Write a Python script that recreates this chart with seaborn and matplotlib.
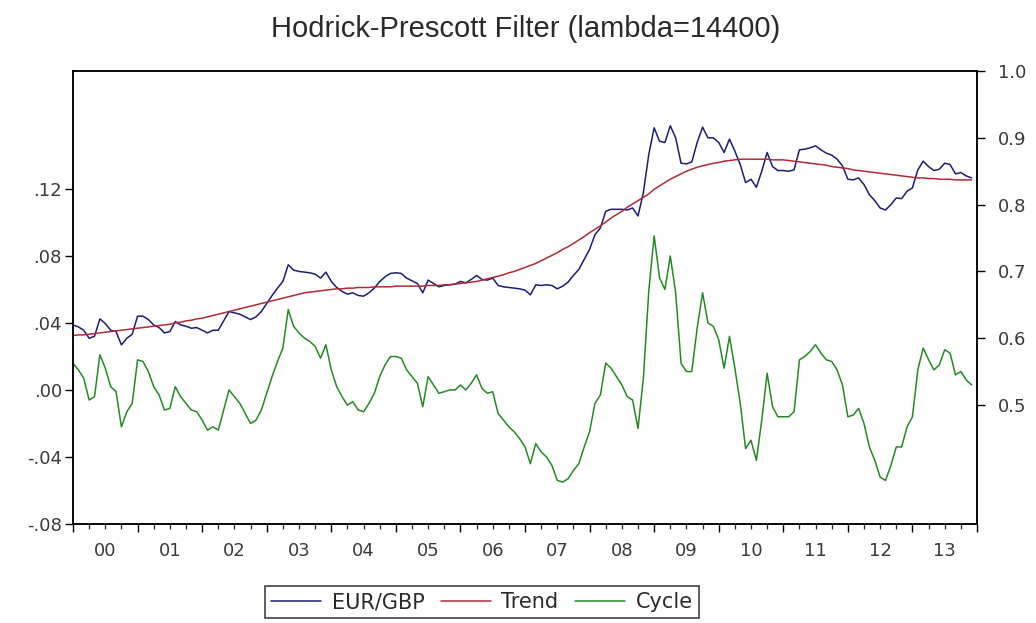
import numpy as np
import pandas as pd
import matplotlib
matplotlib.use("Agg")
import matplotlib.pyplot as plt
import seaborn as sns
from matplotlib.ticker import FixedLocator, FuncFormatter, MultipleLocator
from matplotlib.lines import Line2D

# Monthly EUR/GBP exchange rate, Jan 2000 - Dec 2013
eurgbp = [
    0.620, 0.617, 0.612, 0.600, 0.603, 0.629, 0.622, 0.612, 0.610, 0.590, 0.600, 0.606,  # 2000
    0.633, 0.633, 0.628, 0.620, 0.616, 0.608, 0.610, 0.625, 0.620, 0.618, 0.615, 0.616,  # 2001
    0.612, 0.608, 0.612, 0.612, 0.626, 0.640, 0.638, 0.636, 0.632, 0.628, 0.632, 0.640,  # 2002
    0.652, 0.664, 0.675, 0.685, 0.710, 0.702, 0.700, 0.699, 0.698, 0.696, 0.690, 0.699,  # 2003
    0.685, 0.676, 0.670, 0.666, 0.668, 0.664, 0.663, 0.668, 0.675, 0.685, 0.692, 0.697,  # 2004
    0.698, 0.697, 0.690, 0.686, 0.682, 0.668, 0.687, 0.682, 0.677, 0.679, 0.680, 0.681,  # 2005
    0.685, 0.683, 0.688, 0.694, 0.688, 0.687, 0.690, 0.679, 0.677, 0.676, 0.675, 0.674,  # 2006
    0.672, 0.665, 0.680, 0.679, 0.680, 0.679, 0.674, 0.678, 0.684, 0.694, 0.703, 0.718,  # 2007
    0.733, 0.755, 0.765, 0.790, 0.793, 0.793, 0.793, 0.792, 0.795, 0.783, 0.818, 0.875,  # 2008
    0.915, 0.895, 0.893, 0.918, 0.900, 0.862, 0.861, 0.864, 0.893, 0.916, 0.900, 0.900,  # 2009
    0.893, 0.878, 0.898, 0.880, 0.860, 0.833, 0.838, 0.826, 0.850, 0.878, 0.857, 0.851,  # 2010
    0.851, 0.850, 0.852, 0.882, 0.883, 0.885, 0.888, 0.882, 0.877, 0.874, 0.868, 0.858,  # 2011
    0.838, 0.837, 0.840, 0.830, 0.815, 0.806, 0.795, 0.792, 0.800, 0.810, 0.809, 0.820,  # 2012
    0.825, 0.852, 0.865, 0.857, 0.851, 0.853, 0.862, 0.860, 0.846, 0.848, 0.843, 0.840,  # 2013
]

# Hodrick-Prescott trend component (lambda = 14400)
trend = [
    0.604, 0.605, 0.605, 0.606, 0.607, 0.608, 0.609, 0.610, 0.611, 0.612, 0.613, 0.614,  # 2000
    0.615, 0.616, 0.617, 0.618, 0.619, 0.620, 0.621, 0.623, 0.624, 0.626, 0.627, 0.629,  # 2001
    0.630, 0.632, 0.634, 0.636, 0.638, 0.640, 0.642, 0.644, 0.646, 0.648, 0.650, 0.652,  # 2002
    0.654, 0.656, 0.658, 0.660, 0.662, 0.664, 0.666, 0.668, 0.669, 0.670, 0.671, 0.672,  # 2003
    0.673, 0.674, 0.674, 0.675, 0.675, 0.676, 0.676, 0.676, 0.677, 0.677, 0.677, 0.677,  # 2004
    0.678, 0.678, 0.678, 0.678, 0.678, 0.678, 0.679, 0.679, 0.679, 0.680, 0.680, 0.681,  # 2005
    0.682, 0.683, 0.684, 0.685, 0.687, 0.689, 0.691, 0.693, 0.695, 0.698, 0.700, 0.703,  # 2006
    0.706, 0.709, 0.712, 0.716, 0.720, 0.724, 0.728, 0.733, 0.737, 0.742, 0.747, 0.752,  # 2007
    0.758, 0.763, 0.768, 0.774, 0.780, 0.785, 0.790, 0.796, 0.801, 0.806, 0.811, 0.816,  # 2008
    0.823, 0.828, 0.833, 0.838, 0.842, 0.846, 0.850, 0.853, 0.856, 0.858, 0.860, 0.862,  # 2009
    0.863, 0.865, 0.866, 0.867, 0.868, 0.868, 0.868, 0.868, 0.868, 0.868, 0.867, 0.867,  # 2010
    0.867, 0.866, 0.865, 0.864, 0.863, 0.862, 0.861, 0.860, 0.859, 0.857, 0.856, 0.855,  # 2011
    0.854, 0.852, 0.851, 0.850, 0.849, 0.848, 0.847, 0.846, 0.845, 0.844, 0.843, 0.842,  # 2012
    0.841, 0.840, 0.840, 0.839, 0.839, 0.838, 0.838, 0.838, 0.837, 0.837, 0.837, 0.837,  # 2013
]

years = list(range(2000, 2014))
year_labels = ["00", "01", "02", "03", "04", "05", "06",
               "07", "08", "09", "10", "11", "12", "13"]
left_ticks = [-0.08, -0.04, 0.00, 0.04, 0.08, 0.12]
right_ticks = [0.5, 0.6, 0.7, 0.8, 0.9, 1.0]

series_names = ["EUR/GBP", "Trend", "Cycle"]
colors = {"EUR/GBP": "#1c1c74", "Trend": "#b02a36", "Cycle": "#238a23"}

# Decimal time, level, trend and the cyclical component (level minus trend)
n = len(eurgbp)
df = pd.DataFrame({
    "t": years[0] + np.arange(n) / 12.0,
    "EUR/GBP": eurgbp,
    "Trend": trend,
})
df["Cycle"] = df["EUR/GBP"] - df["Trend"]

sns.set_style("ticks")
plt.rcParams["font.family"] = ["DejaVu Sans"]

W, H = 1036, 623
fig = plt.figure(figsize=(W / 100, H / 100), dpi=100)
ax = fig.add_axes([73 / W, 1 - 524 / H, (977 - 73) / W, (524 - 71) / H])
ax2 = ax.twinx()

lw = 1.1
sns.lineplot(data=df, x="t", y="Cycle", ax=ax, color=colors["Cycle"], lw=lw)
sns.lineplot(data=df, x="t", y="EUR/GBP", ax=ax2, color=colors["EUR/GBP"], lw=lw)
sns.lineplot(data=df, x="t", y="Trend", ax=ax2, color=colors["Trend"], lw=lw)

ax.set_xlim(2000, 2014)
ax.set_ylim(-0.08, 0.1904)
ax2.set_ylim(0.322, 1.0)

for a in (ax, ax2):
    a.set_xlabel("")
    a.set_ylabel("")
    for s in a.spines.values():
        s.set_visible(True)
        s.set_color("black")
        s.set_linewidth(1.1)

tick_font = 13
label_color = "#3a3a3a"

# Left axis: cyclical component
ax.yaxis.set_major_locator(FixedLocator(left_ticks))
ax.yaxis.set_major_formatter(FuncFormatter(
    lambda v, p: ("-" if v < -1e-9 else "") + f"{abs(v):.2f}"[1:]))
ax.tick_params(axis="y", direction="out", length=6, width=1.0,
               labelsize=tick_font, pad=2, colors="black", labelcolor=label_color)

# Right axis: exchange rate and trend
ax2.yaxis.set_major_locator(FixedLocator(right_ticks))
ax2.yaxis.set_major_formatter(FuncFormatter(lambda v, p: f"{v:.1f}"))
ax2.tick_params(axis="y", direction="out", length=6, width=1.0,
                labelsize=tick_font, pad=9, colors="black", labelcolor=label_color)

# Time axis: year boundaries with quarterly minor ticks, labels mid-year
ax.xaxis.set_major_locator(FixedLocator(years + [2014]))
ax.xaxis.set_minor_locator(MultipleLocator(0.25))
ax.xaxis.set_major_formatter(FuncFormatter(lambda v, p: ""))
ax.tick_params(axis="x", which="major", direction="out", length=6, width=1.0)
ax.tick_params(axis="x", which="minor", direction="out", length=3.5, width=0.9)
ax.tick_params(axis="x", colors="black")
for yr, lab in zip(years, year_labels):
    ax.text(yr + 0.5, -0.040, lab, transform=ax.get_xaxis_transform(),
            ha="center", va="top", fontsize=tick_font, color=label_color)

fig.suptitle("Hodrick-Prescott Filter (lambda=14400)", x=526 / W,
             y=1 - 29 / H, va="center", fontsize=21,
             family=["Liberation Sans", "DejaVu Sans"], color="#2a2a2a")

handles = [Line2D([0], [0], color=colors[s], lw=lw) for s in series_names]
leg = fig.legend(handles, series_names, loc="center", ncol=3,
                 bbox_to_anchor=(482 / W, 1 - 602 / H),
                 frameon=True, fancybox=False, edgecolor="black",
                 fontsize=15, handlelength=2.4, handletextpad=0.5,
                 columnspacing=0.8, borderpad=0.3)
leg.get_frame().set_linewidth(1.1)
for t in leg.get_texts():
    t.set_color("#2a2a2a")

fig.savefig("out.png", dpi=100, facecolor="white")
